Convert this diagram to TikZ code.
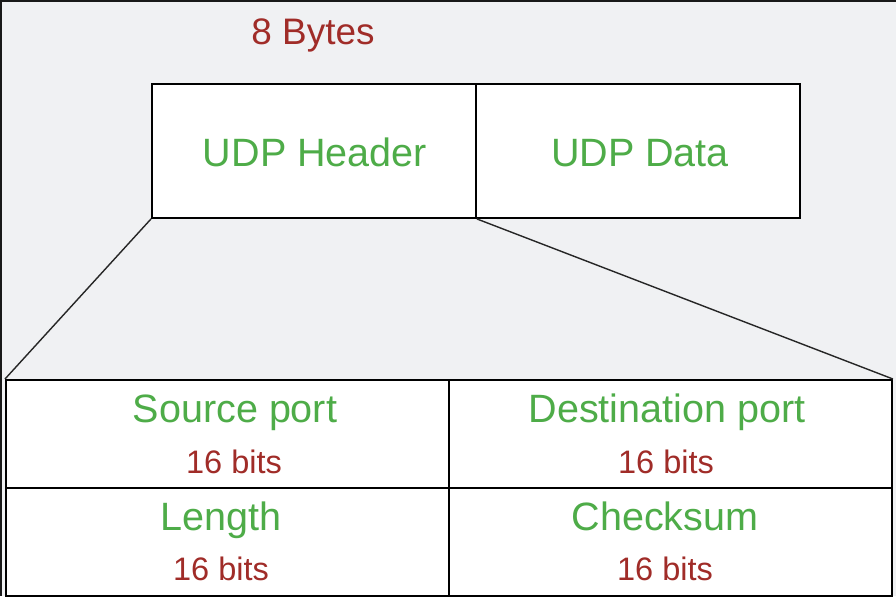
\documentclass[tikz,border=0pt]{standalone}
\usepackage{fontspec}
\setmainfont{Liberation Sans}
\usetikzlibrary{positioning}
\definecolor{fieldgreen}{RGB}{78, 172, 72}
\definecolor{bitred}{RGB}{160, 44, 40}
\definecolor{pagebg}{RGB}{240, 241, 243}
\definecolor{framedark}{RGB}{25, 25, 25}

\begin{document}
\begin{tikzpicture}[
    x=0.02cm, y=-0.02cm,
    segment/.style={rectangle, draw=black, fill=white, line width=1.1pt, inner sep=0pt, minimum width=324*0.02cm, minimum height=134*0.02cm},
    cell/.style={rectangle, draw=black, fill=white, line width=1.1pt, inner sep=0pt, minimum width=443*0.02cm, minimum height=108*0.02cm},
    fieldname/.style={anchor=base, font=\fontsize{22.5}{26}\selectfont, text=fieldgreen, inner sep=0pt},
    bitsize/.style={anchor=base, font=\fontsize{18.5}{22}\selectfont, text=bitred, inner sep=0pt},
    zoomline/.style={draw=black!85, line width=0.8pt}
]

% Background and frame
\fill[pagebg] (0,0) rectangle (896,596);
\useasboundingbox (0,0) rectangle (896,596);
\draw[framedark, line width=1.6pt] (0.5,596) -- (0.5,0.5) -- (896,0.5);

% Datagram
\node[segment, anchor=north west] (header) at (151,83) {};
\node[segment, anchor=north west] (data) at (475,83) {};
\node[fieldname] (headertext) at (315,166) {UDP Header};
\node[fieldname] (datatext) at (640,166) {UDP Data};
\node[anchor=base, font=\fontsize{21}{25}\selectfont, text=bitred, inner sep=0pt] (bytes) at (313,44) {8 Bytes};

% Header fields
\node[cell, anchor=north west] (srcport) at (5,379) {};
\node[cell, anchor=north west] (dstport) at (448,379) {};
\node[cell, anchor=north west] (length) at (5,487) {};
\node[cell, anchor=north west] (checksum) at (448,487) {};

\node[fieldname] (srcname) at (235,422) {Source port};
\node[bitsize] (srcbits) at (234,473) {16 bits};
\node[fieldname] (dstname) at (667,422) {Destination port};
\node[bitsize] (dstbits) at (666,473) {16 bits};
\node[fieldname] (lenname) at (221,530) {Length};
\node[bitsize] (lenbits) at (221,580) {16 bits};
\node[fieldname] (sumname) at (665,530) {Checksum};
\node[bitsize] (sumbits) at (665,580) {16 bits};

% Zoom lines
\draw[zoomline] (header.south west) -- (srcport.north west);
\draw[zoomline] (header.south east) -- (dstport.north east);

\end{tikzpicture}
\end{document}
